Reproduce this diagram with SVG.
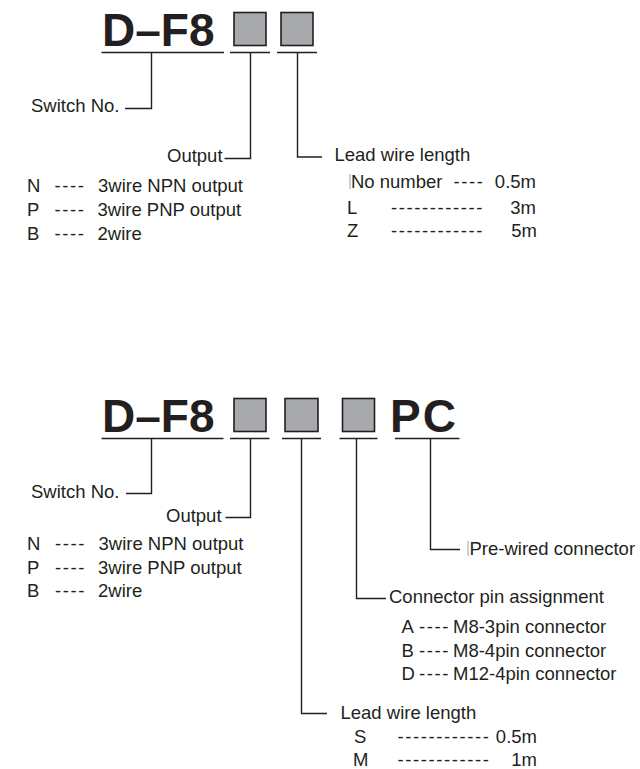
<svg xmlns="http://www.w3.org/2000/svg" width="640" height="769" viewBox="0 0 640 769">
<style>
.t{font-family:"Liberation Sans",Arial,sans-serif;font-size:18.5px;fill:#231f20}
.big{font-family:"Liberation Sans",Arial,sans-serif;font-size:46px;font-weight:bold;fill:#231f20}
.d{letter-spacing:1.6px}
.e{text-anchor:end}
.box{fill:#a7a9ac;stroke:#231f20;stroke-width:1.6}
.ln{fill:none;stroke:#231f20;stroke-width:1.4}
.bar{stroke:#888;stroke-width:0.8}
</style>
<rect width="640" height="769" fill="#fff"/>

<g id="top-code">
<text class="big" x="102" y="46">D–F8</text>
<rect class="box" x="234" y="12.5" width="32" height="33"/>
<rect class="box" x="281" y="12.5" width="32" height="33"/>
</g>

<g id="bottom-code">
<text class="big" x="102" y="432">D–F8</text>
<rect class="box" x="234" y="398.5" width="32" height="33"/>
<rect class="box" x="285" y="398.5" width="33" height="33"/>
<rect class="box" x="342.5" y="398.5" width="32" height="33"/>
<text class="big" x="390" y="432" letter-spacing="2">PC</text>
</g>

<g id="connectors">
<path class="ln" d="M101.5 52.5H224M230 52.5H270M277 52.5H317"/>
<path class="ln" d="M151.5 52.5V108.5H125"/>
<path class="ln" d="M250.5 52.5V158.5H224.5"/>
<path class="ln" d="M297.5 52.5V157H322"/>
<path class="ln" d="M101.5 438.5H223.5M230 438.5H269.5M282 438.5H321M339.5 438.5H377.5M395 438.5H459.5"/>
<path class="ln" d="M151.5 438.5V493.5H126"/>
<path class="ln" d="M250.5 438.5V517.5H225.5"/>
<path class="ln" d="M301.5 438.5V713.5H327"/>
<path class="ln" d="M356.5 438.5V598.5H386"/>
<path class="ln" d="M430.5 438.5V549.5H460"/>
</g>

<g id="top-switch"><text class="t" x="31" y="112">Switch No.</text></g>
<g id="top-output">
<text class="t" x="167" y="162">Output</text>
<text class="t" x="27" y="192">N</text><text class="t d" x="54.5" y="192">----</text><text class="t" x="98" y="192">3wire NPN output</text>
<text class="t" x="27" y="216">P</text><text class="t d" x="54.5" y="216">----</text><text class="t" x="97.5" y="216">3wire PNP output</text>
<text class="t" x="27" y="239.5">B</text><text class="t d" x="54.5" y="239.5">----</text><text class="t" x="97.5" y="239.5">2wire</text>
</g>
<g id="top-lead">
<text class="t" x="334.5" y="161">Lead wire length</text>
<line class="bar" x1="350" y1="174" x2="350" y2="189"/>
<text class="t" x="351" y="188">No number</text><text class="t d" x="453.5" y="188">----</text><text class="t e" x="536" y="188">0.5m</text>
<text class="t" x="347" y="214">L</text><text class="t d" x="391" y="214">------------</text><text class="t e" x="536" y="214">3m</text>
<text class="t" x="347" y="237">Z</text><text class="t d" x="391" y="237">------------</text><text class="t e" x="537" y="237">5m</text>
</g>

<g id="bottom-switch"><text class="t" x="31" y="497.5">Switch No.</text></g>
<g id="bottom-output">
<text class="t" x="166" y="522">Output</text>
<text class="t" x="27" y="550">N</text><text class="t d" x="55" y="550">----</text><text class="t" x="98.5" y="550">3wire NPN output</text>
<text class="t" x="27" y="573.5">P</text><text class="t d" x="55" y="573.5">----</text><text class="t" x="98" y="573.5">3wire PNP output</text>
<text class="t" x="27" y="597">B</text><text class="t d" x="55" y="597">----</text><text class="t" x="98" y="597">2wire</text>
</g>
<g id="bottom-prewired">
<line class="bar" x1="468" y1="541" x2="468" y2="556"/>
<text class="t" x="469.5" y="555">Pre-wired connector</text>
</g>
<g id="bottom-pin">
<text class="t" x="389" y="603">Connector pin assignment</text>
<text class="t" x="401.5" y="633">A</text><text class="t d" x="419" y="633">----</text><text class="t" x="453" y="633">M8-3pin connector</text>
<text class="t" x="401.5" y="656.5">B</text><text class="t d" x="419" y="656.5">----</text><text class="t" x="453" y="656.5">M8-4pin connector</text>
<text class="t" x="401.5" y="679.5">D</text><text class="t d" x="419" y="679.5">----</text><text class="t" x="453" y="679.5">M12-4pin connector</text>
</g>
<g id="bottom-lead">
<text class="t" x="340.5" y="718.5">Lead wire length</text>
<text class="t" x="354" y="743">S</text><text class="t d" x="397.5" y="743">------------</text><text class="t e" x="537" y="743">0.5m</text>
<text class="t" x="353" y="765.5">M</text><text class="t d" x="397.5" y="765.5">------------</text><text class="t e" x="537" y="765.5">1m</text>
</g>
</svg>
